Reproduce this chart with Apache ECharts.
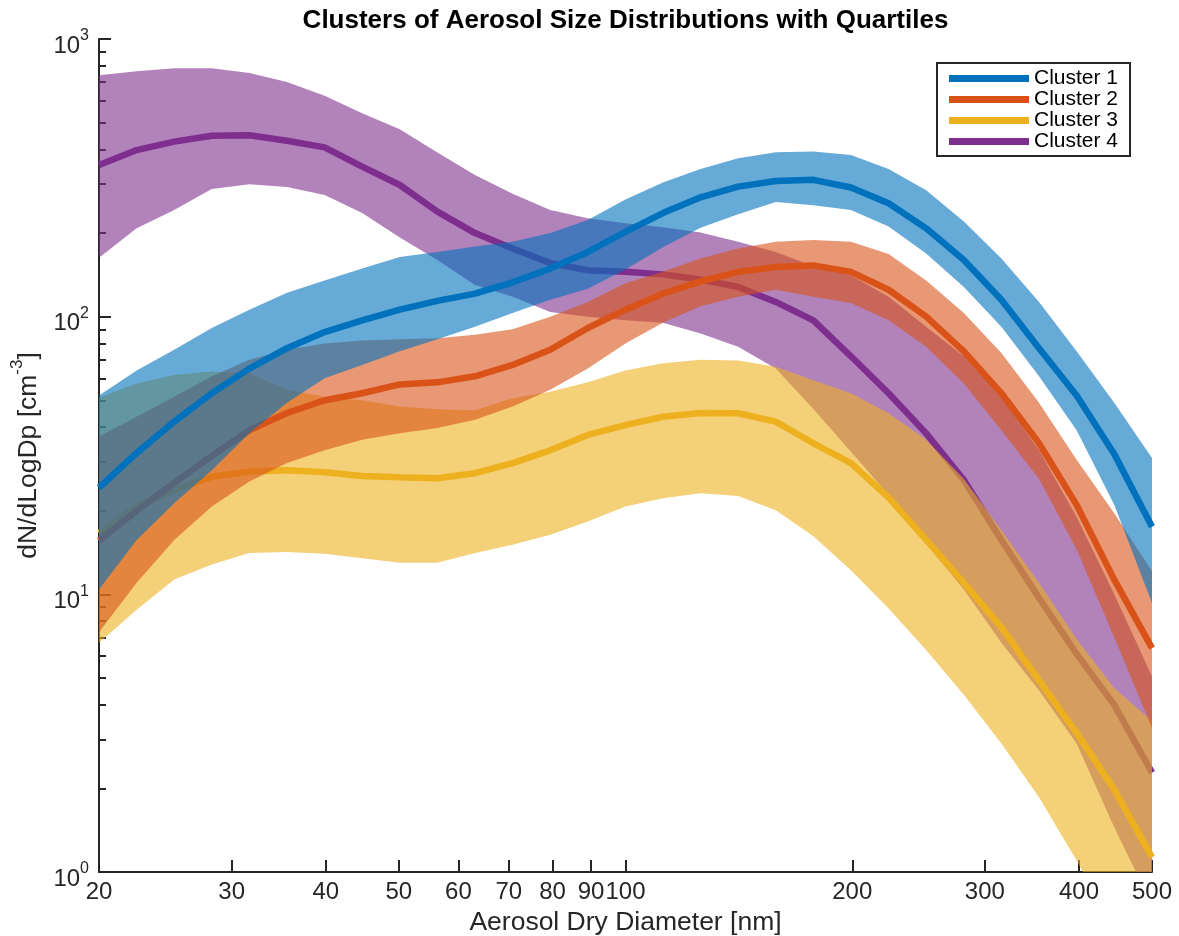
<!DOCTYPE html>
<html><head><meta charset="utf-8">
<script src="https://cdn.jsdelivr.net/npm/echarts@6/dist/echarts.min.js"></script>
<style>html,body{margin:0;padding:0;background:#fff}#c{width:1179px;height:936px}</style>
</head><body><div id="c"></div>
<script>
// Aerosol dry diameters [nm] (bin centres)
const diameters = [20, 22.44, 25.17, 28.23, 31.67, 35.53, 39.86, 44.71, 50.16, 56.27, 63.12, 70.81, 79.44, 89.11, 99.97, 112.1, 125.8, 141.1, 158.3, 177.6, 199.2, 223.5, 250.7, 281.3, 315.5, 354.0, 397.1, 445.5, 500];
const xTicks = [20, 30, 40, 50, 60, 70, 80, 90, 100, 200, 300, 400, 500];
const yMajorTicks = [1, 10, 100, 1000];
const yMinorTicks = [2, 3, 4, 5, 6, 7, 8, 9, 20, 30, 40, 50, 60, 70, 80, 90, 200, 300, 400, 500, 600, 700, 800, 900];

const c1Median = [24.2, 32.3, 41.9, 53, 65, 77, 88, 97, 106, 114, 121, 133, 149, 171, 202, 236, 269, 294, 308, 311, 292, 256, 208, 160, 115, 77, 52, 32, 17.5];
const c1Q3 = [52, 64, 76, 91, 106, 122, 135, 149, 164, 171, 179, 186, 200, 223, 264, 304, 340, 372, 391, 393, 382, 340, 285, 220, 162, 113, 75, 49, 31];
const c1Q1 = [10.4, 15.7, 21.3, 28, 38, 49, 60, 67, 75, 83, 92, 103, 115, 126, 148, 178, 209, 234, 259, 252, 242, 211, 169, 128, 92, 61, 39, 21, 9.3];

const c2Median = [15.6, 20, 25.2, 31.5, 39, 45, 50, 53, 57, 58, 61, 67, 76, 91, 106, 121, 134, 145, 151, 153, 145, 125, 100, 75, 53, 35, 21, 11.3, 6.4];
const c2Q3 = [37, 43.6, 51.5, 61, 70, 76, 80, 82, 83, 83.6, 86, 90, 100, 113, 132, 145, 162, 176, 186, 189, 186, 168, 135, 103, 74, 49, 30.5, 19.6, 12.1];
const c2Q1 = [7.3, 11, 15.7, 20.7, 25.5, 29.7, 33, 36, 38, 39.7, 42.5, 47.5, 54.5, 65, 80, 95, 109, 118, 125, 118, 112, 97, 78, 57.5, 39, 26, 14.5, 7, 3.3];

const c3Median = [16.6, 20.7, 23.8, 26.5, 27.7, 28, 27.5, 26.7, 26.4, 26.2, 27.3, 29.7, 33, 37.5, 40.7, 43.6, 45, 44.9, 41.9, 35, 29.7, 22.3, 15.7, 11, 7.6, 4.9, 3.17, 1.98, 1.13];
const c3Q3 = [51, 57.5, 61.7, 63.4, 62.5, 54.5, 51.5, 50, 47.5, 46.4, 46, 50.8, 53.7, 58, 64, 68, 70, 69.5, 66, 59, 53, 44.9, 36, 26, 17, 11, 6.9, 4.6, 3.5];
const c3Q1 = [6.7, 8.8, 11.3, 12.8, 14.1, 14.2, 14, 13.5, 13, 13, 14.1, 15.1, 16.4, 18.3, 20.7, 22.2, 23.1, 22.6, 20.1, 16.2, 12.2, 8.9, 6.3, 4.35, 2.9, 1.86, 1.1, 0.63, 0.36];

const c4Median = [352, 398, 427, 448, 450, 430, 407, 347, 298, 239, 200, 176, 156, 147, 145, 142, 136, 128, 113, 97, 72, 53, 38, 25.8, 15.7, 9.7, 6.1, 4.0, 2.28];
const c4Q3 = [740, 765, 785, 785, 755, 700, 625, 540, 473, 390, 324, 277, 242, 226, 217, 210, 201, 186, 171, 152, 141, 118, 92, 72, 51.5, 33, 19, 10, 5.06];
const c4Q1 = [163, 208, 242, 288, 300, 293, 274, 236, 193, 160, 130, 118, 104, 100, 97, 95, 87, 78, 65, 46.5, 32.6, 22.8, 15.2, 10.4, 6.7, 4.5, 2.9, 1.45, 0.76];

const clusterNames = ['Cluster 1', 'Cluster 2', 'Cluster 3', 'Cluster 4'];

const FONT = '"Liberation Sans", Arial, Helvetica, sans-serif';
const AX = '#262626';

function pairs(arr) { return diameters.map((d, i) => [d, arr[i]]); }

// drawing order: cluster 4 first, cluster 1 last (on top); each band then its median
const clusters = [
  { name: 'Cluster 4', key: 'c4', color: '#7E2F8E', med: c4Median, q1: c4Q1, q3: c4Q3 },
  { name: 'Cluster 3', key: 'c3', color: '#EDB120', med: c3Median, q1: c3Q1, q3: c3Q3 },
  { name: 'Cluster 2', key: 'c2', color: '#D95319', med: c2Median, q1: c2Q1, q3: c2Q3 },
  { name: 'Cluster 1', key: 'c1', color: '#0072BD', med: c1Median, q1: c1Q1, q3: c1Q3 }
];

function bandRenderer(c) {
  return function (params, api) {
    if (params.dataIndex !== 0) return null;
    const upper = diameters.map((d, i) => api.coord([d, c.q3[i]]));
    const lower = diameters.map((d, i) => api.coord([d, c.q1[i]])).reverse();
    const cs = params.coordSys;
    return {
      type: 'group',
      clipPath: { type: 'rect', shape: { x: cs.x, y: cs.y, width: cs.width, height: cs.height } },
      children: [{
        type: 'polygon',
        shape: { points: upper.concat(lower) },
        style: { fill: c.color, opacity: 0.6 }
      }]
    };
  };
}

const series = [];
clusters.forEach((c, k) => {
  series.push({
    name: c.key + '_band', type: 'custom', renderItem: bandRenderer(c), z: 2 + 2 * k,
    data: pairs(c.q3), encode: { x: 0, y: 1 }, silent: true
  });
  series.push({
    name: c.name, type: 'line', data: pairs(c.med), symbol: 'none', z: 3 + 2 * k,
    lineStyle: { color: c.color, width: 6.5 }, itemStyle: { color: c.color }, clip: false
  });
});

const chart = echarts.init(document.getElementById('c'), null, { renderer: 'canvas', width: 1179, height: 936 });
chart.setOption({
  animation: false,
  backgroundColor: '#ffffff',
  title: {
    text: 'Clusters of Aerosol Size Distributions with Quartiles',
    left: 625.5, top: 8, textAlign: 'center', padding: 0, z: 20,
    textStyle: { fontFamily: FONT, fontSize: 26, fontWeight: 'bold', color: '#000' }
  },
  legend: {
    data: clusterNames, orient: 'vertical', left: 937, top: 63, z: 20,
    itemWidth: 80, itemHeight: 7, itemGap: 0, icon: 'rect',
    padding: [5, 12, 4, 12], borderColor: AX, borderWidth: 2, backgroundColor: '#fff',
    textStyle: { fontFamily: FONT, fontSize: 21, color: '#000', lineHeight: 20 },
    selectedMode: false
  },
  grid: { left: 99, right: 27, top: 39, bottom: 64, containLabel: false, outerBoundsMode: 'none' },
  xAxis: [{
    type: 'log', logBase: 10, min: 20, max: 500,
    name: 'Aerosol Dry Diameter [nm]', nameLocation: 'middle', nameGap: 30,
    nameTextStyle: { fontFamily: FONT, fontSize: 26.5, color: AX },
    axisLine: { show: true, lineStyle: { color: AX, width: 2 } },
    axisTick: { show: true, inside: true, length: 12, customValues: xTicks, lineStyle: { color: AX, width: 2 } },
    axisLabel: { show: true, customValues: xTicks, margin: 8, fontFamily: FONT, fontSize: 24, color: AX,
      formatter: v => String(Math.round(v)) },
    splitLine: { show: false }, minorTick: { show: false }, minorSplitLine: { show: false }
  }],
  yAxis: [{
    type: 'log', logBase: 10, min: 1, max: 1000,
    name: '{b|dN/dLogDp [cm}{s|-3}{b|]}', nameLocation: 'middle', nameRotate: 90, nameGap: 48,
    nameTextStyle: { fontFamily: FONT, fontSize: 26.5, color: AX,
      rich: { b: { fontFamily: FONT, fontSize: 26.5, color: AX, lineHeight: 34, verticalAlign: 'bottom' },
              s: { fontFamily: FONT, fontSize: 17, color: AX, lineHeight: 34, verticalAlign: 'top' } } },
    axisLine: { show: true, lineStyle: { color: AX, width: 2 } },
    axisTick: { show: true, inside: true, length: 12, customValues: yMajorTicks, lineStyle: { color: AX, width: 2 } },
    axisLabel: { show: true, customValues: yMajorTicks, margin: 10, padding: [8, 0, 0, 0],
      formatter: v => '{b|10}{s|' + Math.round(Math.log10(v)) + '}',
      rich: { b: { fontFamily: FONT, fontSize: 24, color: AX, lineHeight: 30, verticalAlign: 'bottom' },
              s: { fontFamily: FONT, fontSize: 16, color: AX, lineHeight: 30, verticalAlign: 'top' } } },
    splitLine: { show: false }, minorTick: { show: false }
  }, {
    type: 'log', logBase: 10, min: 1, max: 1000, position: 'left', offset: 0,
    axisLine: { show: false },
    axisTick: { show: true, inside: true, length: 7, customValues: yMinorTicks, lineStyle: { color: AX, width: 2 } },
    axisLabel: { show: false }, splitLine: { show: false }
  }],
  series: series
});
</script>
</body></html>
